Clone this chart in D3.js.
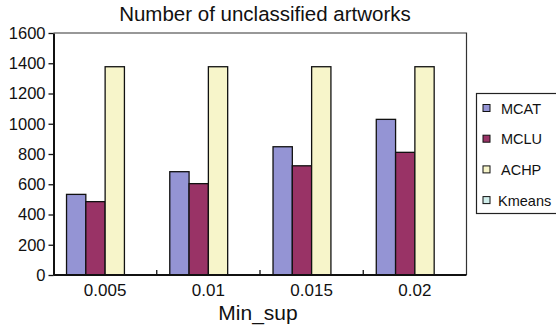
<!DOCTYPE html>
<html>
<head>
<meta charset="utf-8">
<script src="https://cdn.jsdelivr.net/npm/d3@7"></script>
<style>
  html, body { margin: 0; padding: 0; background: #fff; }
  svg { display: block; }
  svg text { font-family: "Liberation Sans", Arial, sans-serif; }
</style>
</head>
<body>
<svg id="chart" width="556" height="330"></svg>
<script>
// Minimum support thresholds (x categories)
const categories = ["0.005", "0.01", "0.015", "0.02"];
// Series names and their unclassified-artwork counts per threshold
const seriesNames = ["MCAT", "MCLU", "ACHP", "Kmeans"];
const mcat   = [533, 683, 848, 1029];
const mclu   = [485, 604, 722, 811];
const achp   = [1377, 1377, 1377, 1377];
const kmeans = [0, 0, 0, 0];
const yTicks = [0, 200, 400, 600, 800, 1000, 1200, 1400, 1600];
const colors = ["#9494d4", "#993366", "#f7f5ca", "#d0eeeb"];

const seriesValues = [mcat, mclu, achp, kmeans];
const rows = categories.map((c, i) => ({
  cat: c,
  values: seriesNames.map((s, j) => ({ series: s, value: seriesValues[j][i], color: colors[j] }))
}));

const svg = d3.select("#chart");
const plot = { left: 53.5, right: 466.5, top: 33, bottom: 275 };

const x0 = d3.scaleBand().domain(categories).range([plot.left, plot.right]).paddingInner(0).paddingOuter(0);
const x1 = d3.scaleBand().domain(seriesNames).range([0, x0.bandwidth()]).paddingInner(0).paddingOuter(0.675);
const y = d3.scaleLinear().domain([0, 1600]).range([plot.bottom, plot.top]);

// Plot frame (top and right edges)
svg.append("path")
  .attr("d", `M${plot.left},${plot.top}H${plot.right}V${plot.bottom}`)
  .attr("fill", "none").attr("stroke", "#333").attr("stroke-width", 1.2);

// Bars
const groups = svg.append("g").selectAll("g").data(rows).join("g")
  .attr("transform", d => `translate(${x0(d.cat)},0)`);
groups.selectAll("rect").data(d => d.values.filter(v => v.value > 0)).join("rect")
  .attr("x", d => x1(d.series))
  .attr("width", x1.bandwidth())
  .attr("y", d => y(d.value))
  .attr("height", d => y(0) - y(d.value))
  .attr("fill", d => d.color)
  .attr("stroke", "#111")
  .attr("stroke-width", 1.3);

// Y axis
const yAxis = svg.append("g").attr("transform", `translate(${plot.left},0)`)
  .call(d3.axisLeft(y).tickValues(yTicks).tickFormat(d3.format("d")).tickSize(5).tickPadding(3).tickSizeOuter(0));
yAxis.attr("font-family", null).attr("font-size", null);
yAxis.select(".domain").attr("stroke", "#111").attr("stroke-width", 2);
yAxis.selectAll(".tick line").attr("stroke", "#111").attr("stroke-width", 1.3);
yAxis.selectAll(".tick text").attr("font-size", 16.5).attr("fill", "#111");

// X axis: ticks sit on the category boundaries, pointing inward
const xAxis = svg.append("g").attr("transform", `translate(0,${plot.bottom})`);
xAxis.append("line").attr("x1", plot.left).attr("x2", plot.right)
  .attr("stroke", "#111").attr("stroke-width", 2);
const bounds = categories.map(c => x0(c)).concat([x0(categories[categories.length - 1]) + x0.bandwidth()]);
xAxis.selectAll("line.tk").data(bounds.slice(1, -1)).join("line").attr("class", "tk")
  .attr("x1", d => d).attr("x2", d => d).attr("y1", 0).attr("y2", -5)
  .attr("stroke", "#111").attr("stroke-width", 1.3);
xAxis.selectAll("text").data(categories).join("text")
  .attr("x", d => x0(d) + x0.bandwidth() / 2)
  .attr("y", 20.5)
  .attr("text-anchor", "middle")
  .attr("font-size", 17).attr("fill", "#111")
  .text(d => d);

// Title and axis title
svg.append("text").attr("x", 265).attr("y", 21).attr("text-anchor", "middle")
  .attr("font-size", 20.5).attr("fill", "#111")
  .text("Number of unclassified artworks");
svg.append("text").attr("x", 258).attr("y", 320).attr("text-anchor", "middle")
  .attr("font-size", 21).attr("fill", "#111")
  .text("Min_sup");

// Legend
const legend = svg.append("g");
legend.append("rect").attr("x", 476.5).attr("y", 93.5).attr("width", 100).attr("height", 120)
  .attr("fill", "#fff").attr("stroke", "#222").attr("stroke-width", 1.2);
const items = legend.selectAll("g").data(seriesNames).join("g")
  .attr("transform", (d, i) => `translate(483,${108 + i * 30.7})`);
items.append("rect").attr("x", 0).attr("y", -3.5).attr("width", 7).attr("height", 7)
  .attr("fill", (d, i) => colors[i]).attr("stroke", "#111").attr("stroke-width", 1);
items.append("text").attr("x", (d, i) => i === 3 ? 15 : 18).attr("y", 5.5)
  .attr("font-size", 14.5).attr("fill", "#111")
  .text(d => d);
</script>
</body>
</html>
